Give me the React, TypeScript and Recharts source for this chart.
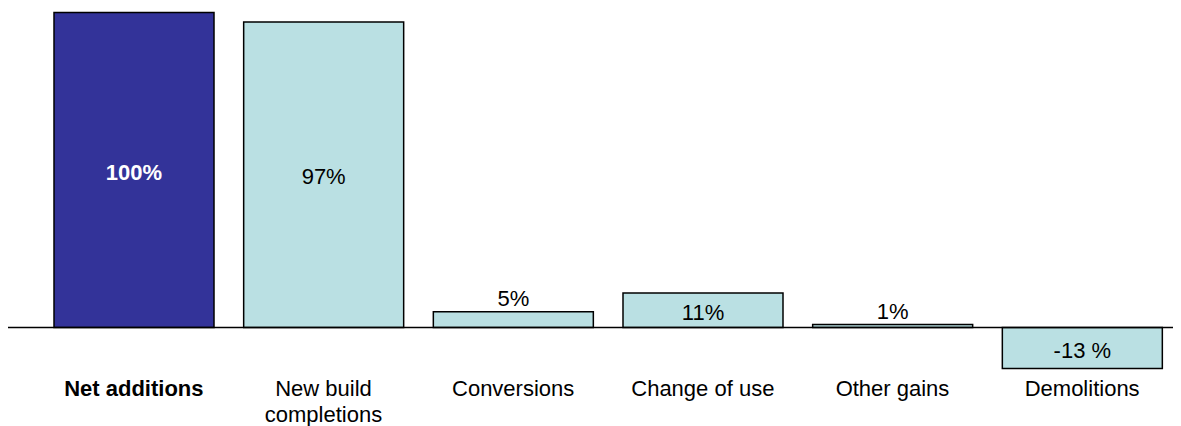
import { BarChart, Bar, XAxis, YAxis, Cell, LabelList, ReferenceLine } from "recharts";

const categories = [
  "Net additions",
  "New build\ncompletions",
  "Conversions",
  "Change of use",
  "Other gains",
  "Demolitions",
];
const shares = [100, 97, 5, 11, 1, -13];
const shareLabels = ["100%", "97%", "5%", "11%", "1%", "-13 %"];

const data = categories.map((name, i) => ({ name, share: shares[i], label: shareLabels[i] }));

const FONT = "'Liberation Sans', Arial, sans-serif";

function CategoryTick(props: any) {
  const { x, y, payload, index } = props;
  const lines = String(payload.value).split("\n");
  return (
    <text
      x={x}
      y={y}
      textAnchor="middle"
      fontFamily={FONT}
      fontSize={22}
      fontWeight={index === 0 ? "bold" : "normal"}
      fill="#000"
    >
      {lines.map((line, i) => (
        <tspan key={i} x={x} dy={i === 0 ? 18 : 26}>
          {line}
        </tspan>
      ))}
    </text>
  );
}

function ValueLabel(props: any) {
  const { x, y, width, height, value, index } = props;
  const v = shares[index];
  const inside = v >= 10 || v < 0;
  const top = Math.min(y, y + height);
  const h = Math.abs(height);
  const cy = inside ? top + h / 2 + 2 : top - 13;
  return (
    <text
      x={x + width / 2}
      y={cy}
      textAnchor="middle"
      dominantBaseline="central"
      fontFamily={FONT}
      fontSize={22}
      fontWeight={index === 0 ? "bold" : "normal"}
      fill={index === 0 ? "#fff" : "#000"}
    >
      {value}
    </text>
  );
}

export default function App() {
  return (
    <BarChart
      width={1173}
      height={418}
      data={data}
      margin={{ top: 4.5, right: 0, bottom: 0, left: 0 }}
    >
      <XAxis
        dataKey="name"
        axisLine={false}
        tickLine={false}
        tickSize={0}
        tickMargin={0}
        height={48}
        interval={0}
        padding={{ left: 31, right: 4 }}
        tick={<CategoryTick />}
      />
      <YAxis hide domain={[-16, 100]} />
      <Bar dataKey="share" barSize={160} stroke="#000" strokeWidth={1.5} isAnimationActive={false}>
        {data.map((_, i) => (
          <Cell key={i} fill={i === 0 ? "#333399" : "#BAE0E3"} />
        ))}
        <LabelList dataKey="label" content={<ValueLabel />} />
      </Bar>
      <ReferenceLine y={0} stroke="#000" strokeWidth={1.5} />
    </BarChart>
  );
}
